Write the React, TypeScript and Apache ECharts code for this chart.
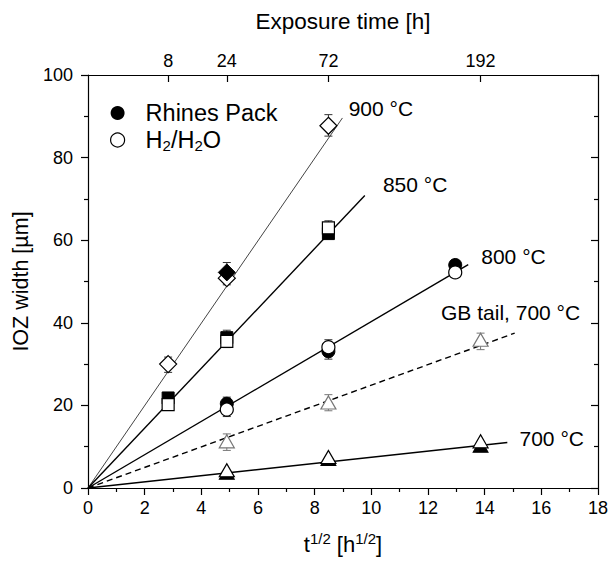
import React, { useEffect, useRef } from "react";
import * as echarts from "echarts";

const FONT = "'Liberation Sans', Arial, Helvetica, sans-serif";

// Exposure times (h) shown on the top axis
const topHours = [8, 24, 72, 192];

// [exposure time (h), IOZ width (µm)]
const rhines900 = [[24, 52.2]];
const rhines850 = [[8, 21.8], [24, 36.4], [72, 61.6]];
const rhines800 = [[24, 20.4], [72, 33.1], [168, 54.0]];
const rhines700 = [[24, 3.7], [72, 7.0], [192, 10.2]];

const h2o900 = [[8, 30.0], [24, 50.8], [72, 87.7]];
const h2o850 = [[8, 20.2], [24, 35.5], [72, 63.0]];
const h2o800 = [[24, 19.0], [72, 34.1], [168, 52.2]];
const h2o700 = [[24, 4.3], [72, 7.5], [192, 11.3]];
const h2oGb700 = [[24, 11.3], [72, 20.7], [192, 35.9]];

// error bars: [exposure time (h), low, high]
const errBlack = [
  [8, 28.0, 31.7], [24, 49.2, 54.6], [72, 85.2, 90.4],
  [8, 19.0, 23.1], [24, 34.0, 38.2], [72, 60.5, 64.7],
  [24, 17.3, 22.0], [72, 31.2, 35.9],
];
const errGray = [[24, 9.1, 13.1], [72, 18.7, 22.6], [192, 33.5, 37.5]];

// fitted lines: end points in [t^1/2, µm]
const fit900 = [[0, 0], [8.98, 89.6]];
const fit850 = [[0, 0], [9.77, 70.8]];
const fit800 = [[0, 0], [13.42, 54.1]];
const fitGb700 = [[0, 0], [15.06, 37.5]];
const fit700 = [[0, 0], [14.8, 11.0]];

// annotation labels: [t^1/2, µm] of left/middle anchor
const tempLabels = ["900 °C", "850 °C", "800 °C", "GB tail, 700 °C", "700 °C"];
const tempLabelX = [9.2, 10.41, 13.88, 12.46, 15.23];
const tempLabelY = [91.8, 73.4, 56.1, 42.4, 11.9];

const SYM: Record<string, any> = {
  diamond: 17,
  rect: 12,
  circle: 13,
  triangle: [15, 13],
};

function mk(arr: number[][], symbol: string, extra: any = {}) {
  return arr.map(([h, v]) => ({
    value: [Math.sqrt(h), v],
    symbol,
    symbolSize: SYM[symbol],
    ...extra,
  }));
}

export default function App() {
  const ref = useRef<HTMLDivElement>(null);
  useEffect(() => {
    document.body.style.margin = "0";
    const chart = echarts.init(ref.current!, null, { renderer: "svg" });
    const axisLine = { show: true, onZero: false, lineStyle: { color: "#000", width: 1.2 } };
    const tickStyle = { color: "#000", width: 1.2 };
    const lineSeries = (name: string, data: number[][], width: number, color: string, type: any = "solid") => ({
      type: "line",
      name,
      data,
      symbol: "none",
      silent: true,
      z: 1,
      lineStyle: { color, width, type },
    });
    const errSeries = (data: number[][], color: string) => ({
      type: "custom",
      silent: true,
      z: 2,
      data: data.map(([h, lo, hi]) => [Math.sqrt(h), lo, hi]),
      encode: { x: 0, y: [1, 2] },
      renderItem: (params: any, api: any) => {
        const x = api.value(0);
        const pLo = api.coord([x, api.value(1)]);
        const pHi = api.coord([x, api.value(2)]);
        const w = 4;
        const style = { stroke: color, lineWidth: 1 };
        return {
          type: "group",
          children: [
            { type: "line", shape: { x1: pLo[0], y1: pLo[1], x2: pHi[0], y2: pHi[1] }, style },
            { type: "line", shape: { x1: pLo[0] - w, y1: pLo[1], x2: pLo[0] + w, y2: pLo[1] }, style },
            { type: "line", shape: { x1: pHi[0] - w, y1: pHi[1], x2: pHi[0] + w, y2: pHi[1] }, style },
          ],
        };
      },
    });
    const openStyle = { color: "#fff", borderColor: "#000", borderWidth: 1.2, opacity: 1 };
    const filledStyle = { color: "#000", borderColor: "#000", borderWidth: 1, opacity: 1 };

    const option: any = {
      animation: false,
      textStyle: { fontFamily: FONT },
      grid: { left: 88, right: 10, top: 75, bottom: 76, containLabel: false },
      legend: {
        orient: "vertical",
        left: 105,
        top: 96,
        itemWidth: 14,
        itemHeight: 14,
        itemGap: 3,
        selectedMode: false,
        data: [
          { name: "Rhines Pack", icon: "circle", itemStyle: { color: "#000", borderWidth: 0, opacity: 1 } },
          { name: "H2/H2O", icon: "circle", itemStyle: { color: "#fff", borderColor: "#000", borderWidth: 1.2, opacity: 1 } },
        ],
        formatter: (name: string) =>
          name === "H2/H2O" ? "{n|H}{s|2}{n|/H}{s|2}{n|O}" : "{n|" + name + "}",
        textStyle: {
          padding: [0, 0, 0, 16],
          rich: {
            n: { fontSize: 23.5, lineHeight: 26, fontFamily: FONT, color: "#000" },
            s: { fontSize: 15, lineHeight: 15, verticalAlign: "bottom", fontFamily: FONT, color: "#000" },
          },
        },
      },
      xAxis: [
        {
          type: "value",
          position: "bottom",
          min: 0,
          max: 18,
          interval: 2,
          axisLine,
          axisTick: { show: true, length: 7, lineStyle: tickStyle },
          minorTick: { show: true, splitNumber: 2, length: 4, lineStyle: tickStyle },
          splitLine: { show: false },
          axisLabel: { fontSize: 18, color: "#000", margin: 11, fontFamily: FONT },
          name: "{n|t}{sup|1/2}{n| [h}{sup|1/2}{n|]}",
          nameLocation: "middle",
          nameGap: 43,
          nameTextStyle: {
            rich: {
              n: { fontSize: 22, lineHeight: 27, fontFamily: FONT, color: "#000" },
              sup: { fontSize: 15, lineHeight: 15, verticalAlign: "top", fontFamily: FONT, color: "#000" },
            },
          },
        },
        {
          type: "value",
          position: "top",
          min: 0,
          max: 18,
          axisLine,
          axisTick: {
            show: true,
            inside: true,
            length: 7,
            lineStyle: tickStyle,
            customValues: topHours.map((h) => Math.sqrt(h)),
          },
          splitLine: { show: false },
          axisLabel: {
            fontSize: 18,
            color: "#000",
            margin: 5,
            fontFamily: FONT,
            customValues: topHours.map((h) => Math.sqrt(h)),
            formatter: (v: number) => String(Math.round(v * v)),
          },
          name: "Exposure time [h]",
          nameLocation: "middle",
          nameGap: 42,
          nameTextStyle: { fontSize: 22.5, color: "#000", fontFamily: FONT },
        },
      ],
      yAxis: [
        {
          type: "value",
          position: "left",
          min: 0,
          max: 100,
          interval: 20,
          axisLine,
          axisTick: { show: true, length: 7, lineStyle: tickStyle },
          minorTick: { show: true, splitNumber: 2, length: 4, lineStyle: tickStyle },
          splitLine: { show: false },
          axisLabel: { fontSize: 18, color: "#000", margin: 15, fontFamily: FONT },
          name: "IOZ width [µm]",
          nameLocation: "middle",
          nameGap: 55,
          nameTextStyle: { fontSize: 21.5, color: "#000", fontFamily: FONT },
        },
        {
          type: "value",
          position: "right",
          min: 0,
          max: 100,
          interval: 20,
          axisLine,
          axisTick: { show: true, inside: true, length: 7, lineStyle: tickStyle },
          minorTick: { show: true, splitNumber: 2, length: 4, lineStyle: tickStyle },
          splitLine: { show: false },
          axisLabel: { show: false },
        },
      ],
      series: [
        lineSeries("fit900", fit900, 1, "#444"),
        lineSeries("fit850", fit850, 1.4, "#000"),
        lineSeries("fit800", fit800, 1.4, "#000"),
        lineSeries("fitGb700", fitGb700, 1.4, "#000", [6, 4]),
        lineSeries("fit700", fit700, 1.4, "#000"),
        errSeries(errBlack, "#333"),
        errSeries(errGray, "#777"),
        {
          type: "scatter",
          name: "Rhines Pack",
          symbol: "circle",
          z: 3,
          itemStyle: filledStyle,
          emphasis: { disabled: true },
          data: [
            ...mk(rhines850, "rect"),
            ...mk(rhines800, "circle"),
            ...mk(rhines700, "triangle"),
          ],
        },
        {
          type: "scatter",
          name: "H2/H2O",
          symbol: "circle",
          z: 4,
          itemStyle: openStyle,
          emphasis: { disabled: true },
          data: [
            ...mk(h2o900, "diamond"),
            ...mk(h2o850, "rect"),
            ...mk(h2o800, "circle"),
            ...mk(h2o700, "triangle"),
            ...mk(h2oGb700, "triangle", { itemStyle: { color: "#fff", borderColor: "#777", borderWidth: 1.2, opacity: 1 } }),
          ],
        },
        {
          type: "scatter",
          name: "Rhines Pack",
          symbol: "diamond",
          z: 5,
          itemStyle: filledStyle,
          emphasis: { disabled: true },
          data: mk(rhines900, "diamond"),
        },
        {
          type: "scatter",
          name: "labels",
          silent: true,
          z: 6,
          symbolSize: 1,
          itemStyle: { color: "rgba(0,0,0,0)", opacity: 1 },
          emphasis: { disabled: true },
          data: tempLabels.map((t, i) => ({ name: t, value: [tempLabelX[i], tempLabelY[i]] })),
          label: {
            show: true,
            position: "inside",
            align: "left",
            verticalAlign: "middle",
            formatter: "{b}",
            fontSize: 21,
            color: "#000",
            opacity: 1,
            fontFamily: FONT,
          },
        },
      ],
    };
    chart.setOption(option);
    return () => chart.dispose();
  }, []);
  return (
    <div
      ref={ref}
      style={{ position: "fixed", left: 0, top: 0, width: 611, height: 564, background: "#fff" }}
    />
  );
}
